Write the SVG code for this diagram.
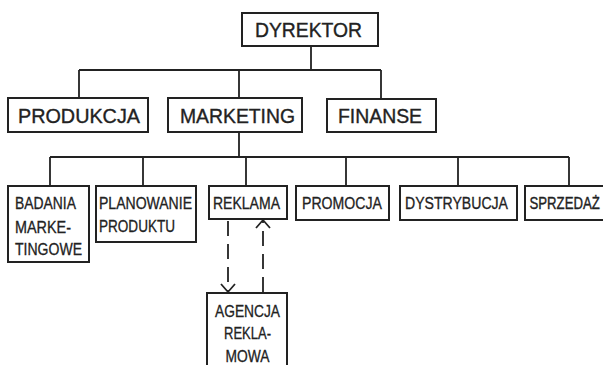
<svg xmlns="http://www.w3.org/2000/svg" width="603" height="365" viewBox="0 0 603 365">
<style>
.box{fill:#fff;stroke:#222;stroke-width:2}
.ln{fill:none;stroke:#222;stroke-width:1.8}
.dash{fill:none;stroke:#222;stroke-width:1.8;stroke-dasharray:15 8}
.big{font-family:"Liberation Sans",Arial,sans-serif;font-size:19.5px;fill:#222;stroke:#222;stroke-width:0.35;text-anchor:middle}
.sm{font-family:"Liberation Sans",Arial,sans-serif;font-size:16px;fill:#222;stroke:#222;stroke-width:0.3}
.c{text-anchor:middle}
</style>
<rect width="603" height="365" fill="#fff"/>
<g id="connectors">
<path class="ln" d="M311 46V70M79 70H381M79 70V98M239 70V98M381 70V99"/>
<path class="ln" d="M239 132V157M50 157H569M50 157V186M143 157V186M246 157V186M346 157V186M458 157V186M569 157V186"/>
<path class="dash" d="M228 221V291"/>
<path class="ln" d="M221 284L228 292L235 284"/>
<path class="dash" d="M263 292V221"/>
<path class="ln" d="M256 228L263 220L270 228"/>
</g>
<g id="dyrektor"><rect class="box" x="242" y="13" width="136" height="33"/><text class="big" x="308.5" y="36.5" textLength="107" lengthAdjust="spacingAndGlyphs">DYREKTOR</text></g>
<g id="produkcja"><rect class="box" x="8" y="98" width="140" height="34"/><text class="big" x="79" y="122.5" textLength="122" lengthAdjust="spacingAndGlyphs">PRODUKCJA</text></g>
<g id="marketing"><rect class="box" x="168" y="98" width="134" height="34"/><text class="big" x="237.5" y="122.5" textLength="115" lengthAdjust="spacingAndGlyphs">MARKETING</text></g>
<g id="finanse"><rect class="box" x="327" y="99" width="109" height="33"/><text class="big" x="380" y="123" textLength="84" lengthAdjust="spacingAndGlyphs">FINANSE</text></g>
<g id="badania"><rect class="box" x="8" y="186" width="81" height="76"/>
<text class="sm" x="15" y="209" textLength="61" lengthAdjust="spacingAndGlyphs">BADANIA</text>
<text class="sm" x="15" y="232.5" textLength="56" lengthAdjust="spacingAndGlyphs">MARKE-</text>
<text class="sm" x="15" y="255" textLength="67" lengthAdjust="spacingAndGlyphs">TINGOWE</text></g>
<g id="planowanie"><rect class="box" x="96" y="186" width="100" height="56"/>
<text class="sm" x="99" y="209" textLength="93" lengthAdjust="spacingAndGlyphs">PLANOWANIE</text>
<text class="sm" x="99" y="231.5" textLength="76" lengthAdjust="spacingAndGlyphs">PRODUKTU</text></g>
<g id="reklama"><rect class="box" x="209" y="186" width="78" height="33"/><text class="sm c" x="246.5" y="209" textLength="67" lengthAdjust="spacingAndGlyphs">REKLAMA</text></g>
<g id="promocja"><rect class="box" x="296" y="186" width="93" height="34"/><text class="sm c" x="342" y="209.3" textLength="80" lengthAdjust="spacingAndGlyphs">PROMOCJA</text></g>
<g id="dystrybucja"><rect class="box" x="400" y="186" width="117" height="34"/><text class="sm c" x="456.5" y="209.3" textLength="103" lengthAdjust="spacingAndGlyphs">DYSTRYBUCJA</text></g>
<g id="sprzedaz"><path class="box" d="M603 186H525V220H603"/><text class="sm" style="font-size:13.2px" transform="translate(529.5 209.3) scale(1 1.2)" x="0" y="0">SPRZEDAŻ</text></g>
<g id="agencja"><path class="box" d="M207 365V293H287V365"/>
<text class="sm c" x="247.5" y="316.7" textLength="65" lengthAdjust="spacingAndGlyphs">AGENCJA</text>
<text class="sm c" x="247.5" y="339.3" textLength="47" lengthAdjust="spacingAndGlyphs">REKLA-</text>
<text class="sm c" x="247.5" y="361.7" textLength="44" lengthAdjust="spacingAndGlyphs">MOWA</text></g>
</svg>
